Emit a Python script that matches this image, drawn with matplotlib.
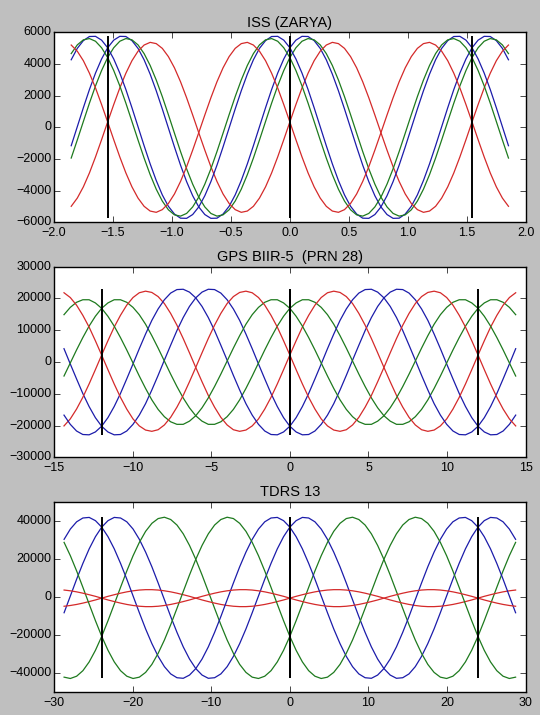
import numpy as np
import matplotlib
matplotlib.use("Agg")
import matplotlib.pyplot as plt

# satellite position components (km), one orbit sampled 30 times,
# read off the original chart; the orbit repeats every period
titles = ['ISS (ZARYA)', 'GPS BIIR-5  (PRN 28)', 'TDRS 13']
periods = [1.545, 11.97, 23.93]   # hours
n_per_orbit = 30
n_orbits_shown = 1.2

iss_x = [5030, 5510, 5750, 5740, 5480, 4990, 4270, 3360, 2310, 1160, -40, -1240, -2390, -3430, -4320,
         -5030, -5510, -5750, -5740, -5480, -4990, -4270, -3360, -2310, -1160, 40, 1240, 2390, 3430, 4320]
iss_y = [4410, 5030, 5440, 5610, 5530, 5210, 4660, 3910, 2990, 1940, 800, -370, -1530, -2620, -3590,
         -4410, -5030, -5440, -5610, -5530, -5210, -4660, -3910, -2990, -1940, -800, 370, 1530, 2620, 3590]
iss_z = [340, 1440, 2490, 3420, 4210, 4810, 5200, 5370, 5290, 4990, 4470, 3760, 2880, 1870, 780,
         -340, -1440, -2490, -3420, -4210, -4810, -5200, -5370, -5290, -4990, -4470, -3760, -2880, -1870, -780]

gps_x = [-20200, -22000, -22900, -22800, -21700, -19600, -16700, -13100, -8800, -4200, 600, 5300, 9900, 14000, 17500,
         20200, 22000, 22900, 22800, 21700, 19600, 16700, 13100, 8800, 4200, -600, -5300, -9900, -14000, -17500]
gps_y = [16900, 18600, 19600, 19600, 18800, 17200, 14900, 11900, 8300, 4400, 300, -3800, -7700, -11300, -14400,
         -16900, -18600, -19600, -19600, -18800, -17200, -14900, -11900, -8300, -4400, -300, 3800, 7700, 11300, 14400]
gps_z = [2200, 6700, 11000, 14700, 17900, 20300, 21800, 22300, 21900, 20600, 18400, 15300, 11600, 7400, 2900,
         -1700, -6200, -10500, -14200, -17400, -19800, -21300, -21800, -21400, -20100, -17900, -14800, -11100, -6900, -2400]

tdrs_x = [36700, 40100, 41800, 41500, 39500, 35700, 30300, 23600, 15900, 7400, -1400, -10200, -18500, -26100, -32500,
          -37500, -40900, -42600, -42300, -40300, -36500, -31100, -24400, -16700, -8200, 600, 9400, 17700, 25300, 31700]
tdrs_y = [-20600, -12400, -3700, 5100, 13700, 21700, 28700, 34500, 38700, 41200, 41900, 40700, 37800, 33200, 27100,
          19800, 11600, 2900, -5900, -14500, -22500, -29500, -35300, -39500, -42000, -42700, -41500, -38600, -34000, -27900]
tdrs_z = [-550, 400, 1250, 2050, 2750, 3300, 3700, 3900, 3900, 3700, 3300, 2750, 2050, 1250, 400,
          -550, -1500, -2350, -3150, -3850, -4400, -4800, -5000, -5000, -4800, -4400, -3850, -3150, -2350, -1500]

positions = [(iss_x, iss_y, iss_z), (gps_x, gps_y, gps_z), (tdrs_x, tdrs_y, tdrs_z)]

xlims = [(-2, 2), (-15, 15), (-30, 30)]
ylims = [(-6000, 6000), (-30000, 30000), (-50000, 50000)]
yticks = [None, None, [-40000, -20000, 0, 20000, 40000]]

colors = ['#1c1caa', '#1e7a1e', '#d42a2a']

plt.style.use('classic')
plt.rcParams['font.family'] = ['Liberation Sans', 'DejaVu Sans']

fig = plt.figure(figsize=(5.4, 7.15), dpi=100)
boxes = [(0.1, 0.6891, 0.8735, 0.2656),
         (0.1, 0.3603, 0.8735, 0.2667),
         (0.1, 0.0316, 0.8735, 0.2666)]

for i in range(3):
    ax = fig.add_axes(boxes[i])
    P = periods[i]
    n = int(round(n_per_orbit * n_orbits_shown))
    k = np.arange(-n, n + 1)
    t = k * P / n_per_orbit

    # forward and backward propagation
    for sign in (1, -1):
        for comp, col in zip(positions[i], colors):
            ax.plot(sign * t, np.array(comp)[k % n_per_orbit], color=col, lw=0.9)

    allv = np.concatenate(positions[i])
    ax.vlines([-P, 0, 0, P], allv.min(), allv.max(), color='k', lw=1.4)

    ax.set_xlim(xlims[i])
    ax.set_ylim(ylims[i])
    if yticks[i] is not None:
        ax.set_yticks(yticks[i])
    ax.set_title(titles[i], fontsize=10.5, pad=4)
    ax.tick_params(labelsize=9)
    ax.tick_params(axis='y', pad=2)
    ax.tick_params(axis='x', pad=3.5)

fig.savefig('out.png', dpi=100, facecolor=fig.get_facecolor())
